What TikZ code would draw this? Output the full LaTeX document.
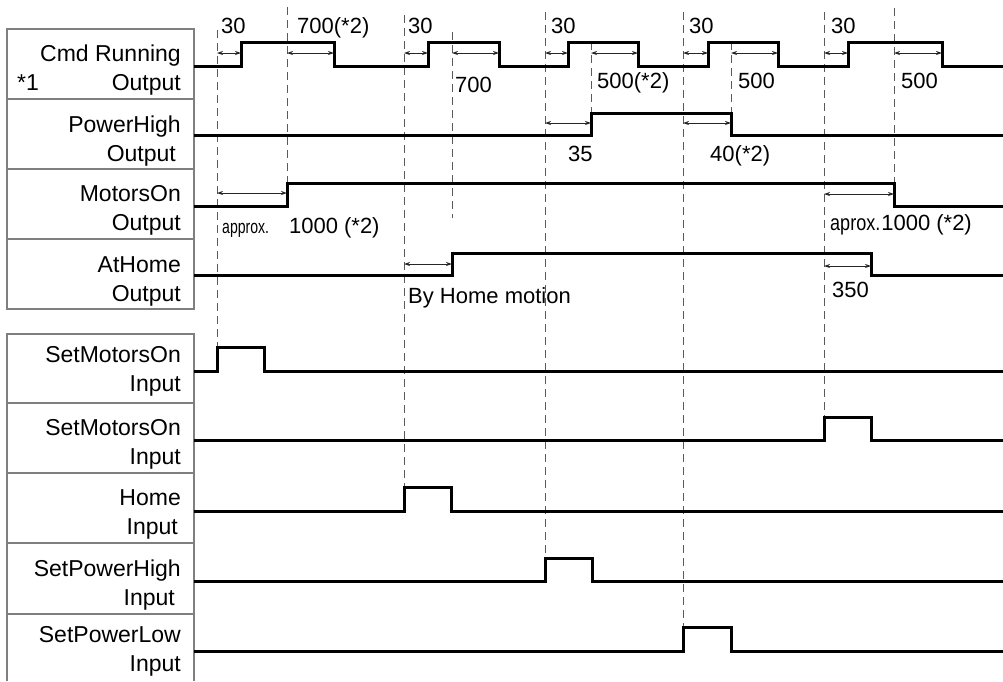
\documentclass[tikz,border=0pt]{standalone}
\usepackage{fontspec}
\setmainfont{Liberation Sans}
\usepackage{graphicx}
\usepackage{tikz}
\usetikzlibrary{arrows.meta}
\definecolor{FrameGray}{HTML}{7F7F7F}
\definecolor{GuideGray}{HTML}{5A5A5A}

\begin{document}
\begin{tikzpicture}[x=1pt, y=-1pt, every node/.style={inner sep=0pt}]
    \tikzstyle{signal}=[line width=3pt, black]
    \tikzstyle{guide}=[GuideGray, line width=0.9pt, dash pattern=on 8pt off 5pt]
    \tikzstyle{labelframe}=[FrameGray, line width=1.2pt]
    \tikzstyle{dimarrow}=[{Stealth[length=6pt,width=4pt]}-{Stealth[length=6pt,width=4pt]},
                          line width=0.8pt, black!85]
    \tikzstyle{rowlabel}=[anchor=east, align=right, font=\fontsize{23}{29}\selectfont]
    \tikzstyle{timelabel}=[anchor=west, text height=16pt, text depth=0pt,
                           font=\fontsize{22}{26}\selectfont]

    \useasboundingbox (0,0) rectangle (1003,681);

    % label frames
    \draw[labelframe] (7,29) rectangle (194,309);
    \draw[labelframe] (7,99) -- (194,99) (7,169) -- (194,169) (7,239) -- (194,239);
    \draw[labelframe] (7,681) -- (7,334) -- (194,334) -- (194,681);
    \draw[labelframe] (7,403) -- (194,403) (7,473) -- (194,473)
                      (7,543) -- (194,543) (7,614) -- (194,614);

    \node[rowlabel] (cmdrun) at (181,70) {Cmd Running\\Output};
    \node[rowlabel, anchor=west] (note) at (17,83) {*1};
    \node[rowlabel] (powhigh) at (181,141.5) {PowerHigh\\Output\rule{5pt}{0pt}};
    \node[rowlabel] (motors) at (181,210.5) {MotorsOn\\Output};
    \node[rowlabel] (athome) at (181,281.5) {AtHome\\Output};
    \node[rowlabel] (setmotorsA) at (181,371.5) {SetMotorsOn\\Input};
    \node[rowlabel] (setmotorsB) at (181,444.5) {SetMotorsOn\\Input};
    \node[rowlabel] (home) at (181,514.5) {Home\\Input\rule{3pt}{0pt}};
    \node[rowlabel] (sethigh) at (181,585) {SetPowerHigh\\Input\rule{6pt}{0pt}};
    \node[rowlabel] (setlow) at (181,651.5) {SetPowerLow\\Input};

    % guide lines
    \draw[guide] (217,30) -- (217,347);
    \draw[guide] (287,7) -- (287,183);
    \draw[guide] (404,15) -- (404,487);
    \draw[guide] (452,32) -- (452,218);
    \draw[guide] (545,12) -- (545,558);
    \draw[guide] (591,42) -- (591,113);
    \draw[guide] (683,12) -- (683,627);
    \draw[guide] (731,42) -- (731,113);
    \draw[guide] (824,12) -- (824,417);
    \draw[guide] (894,8) -- (894,183);

    % signals
    \draw[signal] (194,66) -| (241,42) -| (334,66) -| (428,42) -| (499,66) -| (568,42)
                  -| (638,66) -| (708,42) -| (778,66) -| (848,42) -| (942,66) -- (1003,66);
    \draw[signal] (194,135) -| (591,113) -| (731,135) -- (1003,135);
    \draw[signal] (194,206) -| (287,183) -| (894,206) -- (1003,206);
    \draw[signal] (194,275) -| (452,253) -| (871,275) -- (1003,275);
    \draw[signal] (194,371) -| (217,347) -| (264,371) -- (1003,371);
    \draw[signal] (194,440) -| (824,417) -| (871,440) -- (1003,440);
    \draw[signal] (194,511) -| (404,487) -| (451,511) -- (1003,511);
    \draw[signal] (194,581) -| (545,558) -| (592,581) -- (1003,581);
    \draw[signal] (194,651) -| (683,627) -| (731,651) -- (1003,651);

    % timings
    \draw[dimarrow] (217,53) -- (241,53);
    \draw[dimarrow] (287,53) -- (334,53);
    \draw[dimarrow] (404,53) -- (428,53);
    \draw[dimarrow] (452,53) -- (499,53);
    \draw[dimarrow] (545,53) -- (568,53);
    \draw[dimarrow] (591,53) -- (638,53);
    \draw[dimarrow] (683,53) -- (708,53);
    \draw[dimarrow] (731,53) -- (778,53);
    \draw[dimarrow] (824,53) -- (848,53);
    \draw[dimarrow] (894,53) -- (942,53);
    \draw[dimarrow] (545,123) -- (591,123);
    \draw[dimarrow] (683,123) -- (731,123);
    \draw[dimarrow] (217,193) -- (287,193);
    \draw[dimarrow] (824,194) -- (894,194);
    \draw[dimarrow] (404,264) -- (452,264);
    \draw[dimarrow] (824,266) -- (871,266);

    \node[timelabel] (t30a) at (221,25) {30};
    \node[timelabel] (t700a) at (297,25) {700(*2)};
    \node[timelabel] (t30b) at (408,25) {30};
    \node[timelabel] (t700b) at (455,84) {700};
    \node[timelabel] (t30c) at (551,25) {30};
    \node[timelabel] (t500a) at (597,80) {500(*2)};
    \node[timelabel] (t30d) at (689,25) {30};
    \node[timelabel] (t500b) at (738,80) {500};
    \node[timelabel] (t30e) at (831,25) {30};
    \node[timelabel] (t500c) at (901,80) {500};
    \node[timelabel] (t35) at (568,153) {35};
    \node[timelabel] (t40) at (710,153) {40(*2)};
    \node[timelabel] (tmotA) at (222,225)
        {\scalebox{0.74}[1]{\fontsize{19}{22}\selectfont approx.}\hspace{20pt}1000 (*2)};
    \node[timelabel] (tmotB) at (830,222)
        {\scalebox{0.82}[1]{\fontsize{22}{26}\selectfont aprox.}\hspace{1pt}1000 (*2)};
    \node[timelabel] (thome) at (408,295) {By Home motion};
    \node[timelabel] (t350) at (832,289) {350};

\end{tikzpicture}
\end{document}
